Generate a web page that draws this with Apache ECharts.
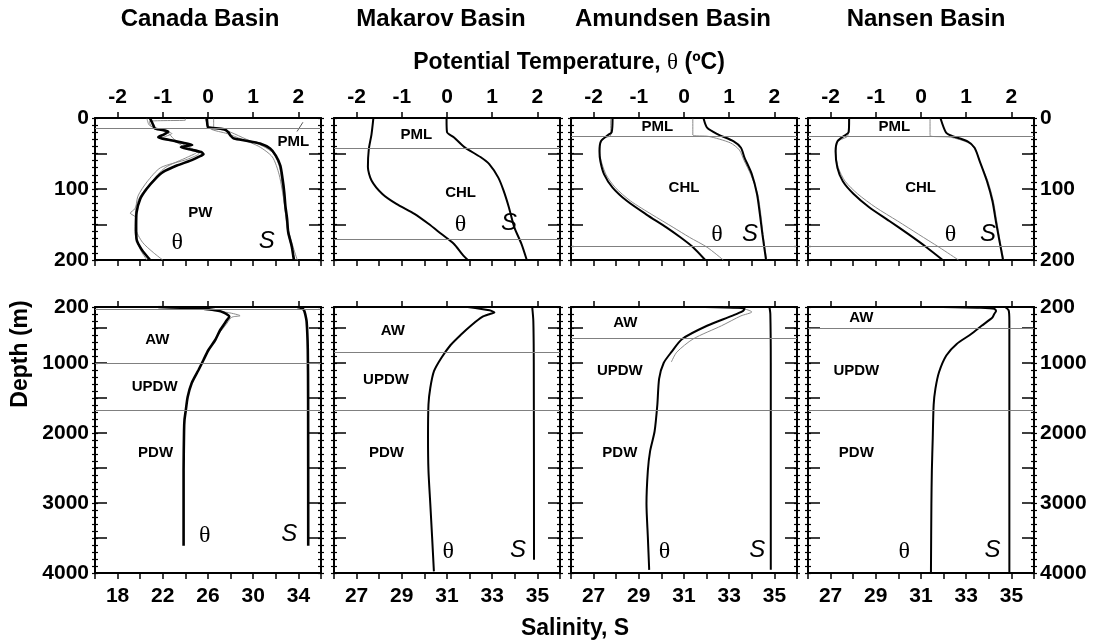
<!DOCTYPE html>
<html><head><meta charset="utf-8">
<script src="https://cdn.jsdelivr.net/npm/echarts@6/dist/echarts.min.js"></script>
<style>html,body{margin:0;padding:0;background:#fff}#c{width:1096px;height:644px}</style>
</head><body><div id="c"></div>
<script>
// ---------------- DATA ----------------
const basinNames = ['Canada Basin', 'Makarov Basin', 'Amundsen Basin', 'Nansen Basin'];
const thetaTickValues = [-2, -1, 0, 1, 2];
const salinityLabelsCanada = [18, 22, 26, 30, 34];
const salinityLabelsOther = [27, 29, 31, 33, 35];
const upperDepthLabels = [0, 100, 200];
const lowerDepthLabels = [200, 1000, 2000, 3000, 4000];
const lowerDepthMajorTicks = [500, 1000, 1500, 2000, 2500, 3000, 3500];

// profiles as [depth (m), value]
const canadaUpperTheta = [[1,-1.28],[6,-1.24],[10,-1.21],[15,-1.17],[19,-0.88],[23,-0.97],[27,-1.10],[31,-0.85],[35,-0.55],[38,-0.35],[41,-0.6],[44,-0.42],[48,-0.15],[51,-0.1],[55,-0.22],[60,-0.39],[67,-0.69],[76,-0.99],[86,-1.17],[100,-1.36],[114,-1.5],[133,-1.58],[152,-1.59],[171,-1.58],[185,-1.47],[200,-1.28]];
const canadaUpperThetaGrayA = [[1,-0.5],[3,-0.5],[5,-1.3],[12,-1.25],[20,-0.9],[30,-0.75],[40,-0.45],[48,-0.25],[55,-0.45],[70,-0.95],[90,-1.25],[110,-1.5],[128,-1.62],[134,-1.72],[140,-1.6],[155,-1.6],[175,-1.45],[190,-1.2],[200,-1.0]];
const canadaUpperThetaGrayB = [[1,-1.35],[10,-1.3],[16,-1.1],[22,-0.8],[28,-1.0],[34,-0.7],[42,-0.5],[50,-0.2],[58,-0.45],[70,-1.05],[90,-1.35],[110,-1.55],[130,-1.6],[160,-1.62],[185,-1.5],[200,-1.35]];
const canadaUpperSal = [[1,25.9],[10,25.95],[13,26.0],[16,27.4],[20,27.8],[25,28.0],[29,28.3],[32,29.4],[36,30.6],[43,31.5],[53,32.0],[67,32.4],[86,32.6],[105,32.75],[124,32.85],[142,33.0],[161,33.1],[180,33.4],[200,33.6]];
const canadaUpperSalGrayA = [[1,26.5],[12,26.5],[20,28.0],[30,29.4],[40,30.9],[50,31.8],[70,32.35],[100,32.6],[150,33.0],[180,33.5],[200,33.9]];
const canadaUpperSalGrayB = [[1,25.75],[15,26.2],[22,27.7],[30,29.0],[40,30.5],[55,31.7],[80,32.3],[120,32.75],[160,33.05],[200,33.7]];
const canadaLowerTheta = [[200,-1.1],[210,-0.6],[219,-0.17],[250,0.2],[281,0.35],[338,0.47],[386,0.42],[529,0.27],[671,0.16],[814,0.01],[957,-0.1],[1100,-0.21],[1286,-0.36],[1486,-0.45],[1671,-0.49],[1814,-0.52],[1970,-0.53],[2540,-0.54],[3000,-0.54],[3610,-0.54]];
const canadaLowerThetaGray = [[200,-1.0],[230,-0.2],[280,0.45],[325,0.71],[340,0.55],[360,0.5],[450,0.4],[600,0.22],[800,0.03]];
const canadaLowerSal = [[200,33.9],[215,34.3],[247,34.5],[300,34.6],[412,34.73],[800,34.83],[1500,34.86],[3610,34.87]];

const makarovUpperTheta = [[1,-1.63],[23,-1.67],[44,-1.73],[69,-1.75],[88,-1.67],[107,-1.43],[121,-1.12],[135,-0.72],[149,-0.41],[163,-0.13],[177,0.15],[192,0.34],[200,0.46]];
const makarovUpperSal = [[1,30.98],[20,31.0],[27,31.3],[41,31.77],[55,32.48],[65,32.87],[84,33.27],[102,33.5],[126,33.74],[154,33.98],[177,34.29],[200,34.53]];
const makarovLowerTheta = [[200,0.46],[247,0.94],[280,1.05],[300,0.95],[342,0.78],[460,0.54],[600,0.3],[743,0.08],[932,-0.13],[1120,-0.29],[1357,-0.37],[1593,-0.41],[2065,-0.42],[2537,-0.41],[3009,-0.37],[3481,-0.33],[3977,-0.29]];
const makarovLowerSal = [[200,34.77],[400,34.82],[1000,34.84],[3810,34.85]];

const amundsenUpperTheta = [[1,-1.58],[20,-1.6],[24,-1.68],[33,-1.84],[47,-1.87],[61,-1.85],[79,-1.77],[98,-1.58],[117,-1.26],[136,-0.83],[154,-0.39],[168,-0.08],[182,0.2],[200,0.47]];
const amundsenUpperThetaGray = [[1,-1.62],[24,-1.62],[30,-1.82],[50,-1.86],[79,-1.73],[98,-1.52],[117,-1.18],[136,-0.71],[154,-0.24],[168,0.12],[182,0.51],[200,0.87]];
const amundsenUpperSal = [[1,31.87],[14,32.03],[23,32.5],[33,33.2],[42,33.52],[56,33.68],[79,34.0],[107,34.23],[136,34.36],[164,34.47],[200,34.63]];
const amundsenUpperSalGray = [[1,31.39],[24,31.39],[26,32.1],[35,33.05],[45,33.45],[60,33.66],[80,33.96],[107,34.26],[136,34.4],[164,34.5],[200,34.66]];
const amundsenLowerTheta = [[200,0.47],[212,1.2],[224,1.34],[260,1.3],[327,1.06],[468,0.51],[657,-0.04],[845,-0.28],[1000,-0.45],[1222,-0.55],[1598,-0.59],[1975,-0.65],[2258,-0.75],[2540,-0.8],[3012,-0.83],[3484,-0.8],[3955,-0.77]];
const amundsenLowerThetaGray = [[200,0.87],[230,1.35],[271,1.5],[327,1.26],[468,0.83],[657,0.2],[845,-0.16],[986,-0.28]];
const amundsenLowerSal = [[200,34.78],[300,34.82],[1000,34.84],[3955,34.84]];

const nansenUpperTheta = [[1,-1.59],[20,-1.6],[25,-1.7],[33,-1.85],[47,-1.89],[70,-1.85],[89,-1.73],[107,-1.49],[126,-1.14],[145,-0.7],[164,-0.27],[182,0.12],[200,0.48]];
const nansenUpperThetaGray = [[1,-1.6],[25,-1.62],[33,-1.84],[50,-1.88],[70,-1.83],[89,-1.68],[107,-1.4],[126,-1.0],[145,-0.52],[164,-0.05],[182,0.4],[200,0.83]];
const nansenUpperSal = [[1,31.87],[20,32.1],[25,32.35],[33,33.06],[42,33.37],[61,33.6],[89,33.92],[117,34.16],[145,34.31],[173,34.47],[200,34.63]];
const nansenUpperSalGray = [[1,31.4],[25,31.4],[27,32.3],[35,33.1],[45,33.42],[65,33.64],[89,33.96],[117,34.2],[145,34.35],[173,34.5],[200,34.66]];
const nansenLowerTheta = [[200,0.48],[210,1.3],[224,1.62],[257,1.66],[300,1.62],[351,1.58],[468,1.34],[586,1.11],[727,0.79],[892,0.56],[1128,0.4],[1363,0.32],[1598,0.28],[2069,0.26],[2540,0.24],[3012,0.23],[4000,0.22]];
const nansenLowerSal = [[200,34.72],[250,34.88],[400,34.91],[4000,34.91]];

// layer boundaries (depth, m)
const canadaUpperLayers = [14];
const canadaLowerLayers = [230, 1000, 1680];
const makarovUpperLayers = [43, 171];
const makarovLowerLayers = [850, 1680];
const amundsenUpperLayers = [25, 181];
const amundsenLowerLayers = [650, 1680];
const nansenUpperLayers = [25, 181];
const nansenLowerLayers = [500, 1680];

// annotations [text, theta, depth]
const canadaUpperNotes = [['PML',1.89,34],['PW',-0.17,133],['θ',-0.68,176],['S',1.3,173]];
const canadaLowerNotes = [['AW',-1.12,672],['UPDW',-1.18,1347],['PDW',-1.16,2277],['θ',-0.07,3467],['S',1.8,3448]];
const makarovUpperNotes = [['PML',-0.68,24],['CHL',0.3,106],['θ',0.3,150],['S',1.37,148]];
const makarovLowerNotes = [['AW',-1.2,545],['UPDW',-1.35,1239],['PDW',-1.34,2277],['θ',0.03,3693],['S',1.57,3670]];
const amundsenUpperNotes = [['PML',-0.59,13],['CHL',0.0,99],['θ',0.73,164],['S',1.46,164]];
const amundsenLowerNotes = [['AW',-1.3,421],['UPDW',-1.42,1118],['PDW',-1.42,2281],['θ',-0.43,3694],['S',1.62,3670]];
const nansenUpperNotes = [['PML',-0.59,13],['CHL',-0.01,99],['θ',0.65,164],['S',1.48,164]];
const nansenLowerNotes = [['AW',-1.32,351],['UPDW',-1.43,1118],['PDW',-1.43,2281],['θ',-0.37,3694],['S',1.58,3670]];
const canadaPmlLeader = [[19,1.97],[6,2.1]];

// ---------------- LAYOUT / STYLE ----------------
const FONT = "'Liberation Sans', Arial, Helvetica, sans-serif";
const SERIF = "'Liberation Serif', 'DejaVu Serif', serif";
const panelLeft = [95, 334, 571, 808];
const panelWidth = 226;
const rowGeom = { upper: { top: 118, height: 142 }, lower: { top: 307, height: 266 } };
const titleX = [200, 441, 673, 926];

const panels = [
  { salMin: 16, salMax: 36, salInterval: 2, salLabels: salinityLabelsCanada,
    upper: { theta: canadaUpperTheta, thetaGray: [canadaUpperThetaGrayA, canadaUpperThetaGrayB], sal: canadaUpperSal, salGray: [canadaUpperSalGrayA, canadaUpperSalGrayB], layers: canadaUpperLayers, notes: canadaUpperNotes, leader: canadaPmlLeader },
    lower: { theta: canadaLowerTheta, thetaGray: [canadaLowerThetaGray], sal: canadaLowerSal, salGray: [], layers: canadaLowerLayers, notes: canadaLowerNotes } },
  { salMin: 26, salMax: 36, salInterval: 1, salLabels: salinityLabelsOther,
    upper: { theta: makarovUpperTheta, thetaGray: [], sal: makarovUpperSal, salGray: [], layers: makarovUpperLayers, notes: makarovUpperNotes },
    lower: { theta: makarovLowerTheta, thetaGray: [], sal: makarovLowerSal, salGray: [], layers: makarovLowerLayers, notes: makarovLowerNotes } },
  { salMin: 26, salMax: 36, salInterval: 1, salLabels: salinityLabelsOther,
    upper: { theta: amundsenUpperTheta, thetaGray: [amundsenUpperThetaGray], sal: amundsenUpperSal, salGray: [amundsenUpperSalGray], layers: amundsenUpperLayers, notes: amundsenUpperNotes },
    lower: { theta: amundsenLowerTheta, thetaGray: [amundsenLowerThetaGray], sal: amundsenLowerSal, salGray: [], layers: amundsenLowerLayers, notes: amundsenLowerNotes } },
  { salMin: 26, salMax: 36, salInterval: 1, salLabels: salinityLabelsOther,
    upper: { theta: nansenUpperTheta, thetaGray: [nansenUpperThetaGray], sal: nansenUpperSal, salGray: [nansenUpperSalGray], layers: nansenUpperLayers, notes: nansenUpperNotes },
    lower: { theta: nansenLowerTheta, thetaGray: [], sal: nansenLowerSal, salGray: [], layers: nansenLowerLayers, notes: nansenLowerNotes } }
];

const tickLabelStyle = { color: '#000', fontSize: 21, fontWeight: 'bold', fontFamily: FONT, formatter: v => String(v) };
const axisLineStyle = { color: '#000', width: 2 };

const grids = [], xAxes = [], yAxes = [], series = [];

panels.forEach((p, pi) => {
  ['upper', 'lower'].forEach(row => {
    const g = grids.length;
    const geom = rowGeom[row];
    grids.push({ left: panelLeft[pi], top: geom.top, width: panelWidth, height: geom.height, containLabel: false, outerBoundsMode: 'none' });
    const isUpper = row === 'upper';
    const xT = xAxes.length;
    xAxes.push({
      gridIndex: g, type: 'value', position: 'top', min: -2.5, max: 2.5,
      axisLine: { show: true, onZero: false, lineStyle: axisLineStyle },
      axisTick: { show: true, inside: false, length: 6, customValues: thetaTickValues, lineStyle: { color: '#000', width: 1.5 } },
      axisLabel: { show: isUpper, customValues: thetaTickValues, margin: 10, ...tickLabelStyle },
      splitLine: { show: false }
    });
    const xS = xAxes.length;
    xAxes.push({
      gridIndex: g, type: 'value', position: 'bottom', min: p.salMin, max: p.salMax, interval: p.salInterval,
      axisLine: { show: true, onZero: false, lineStyle: axisLineStyle },
      axisTick: { show: true, inside: false, length: 6, lineStyle: { color: '#000', width: 1.5 } },
      axisLabel: { show: !isUpper, customValues: p.salLabels, margin: 13, ...tickLabelStyle },
      splitLine: { show: false }
    });
    const yBase = yAxes.length;
    const yMin = isUpper ? 0 : 200, yMax = isUpper ? 200 : 4000;
    ['left', 'right'].forEach(side => {
      const showLabels = (side === 'left' && pi === 0) || (side === 'right' && pi === 3);
      const major = {
        gridIndex: g, type: 'value', position: side, inverse: true, min: yMin, max: yMax,
        interval: isUpper ? 50 : 100,
        axisLine: { show: true, onZero: false, lineStyle: axisLineStyle },
        axisTick: { show: true, inside: true, length: 12, lineStyle: { color: '#000', width: 1.5 } },
        axisLabel: { show: showLabels, customValues: isUpper ? upperDepthLabels : lowerDepthLabels, margin: 6, ...tickLabelStyle },
        splitLine: { show: false }
      };
      if (!isUpper) major.axisTick.customValues = lowerDepthMajorTicks;
      yAxes.push(major);
      [false, true].forEach(inside => {
        yAxes.push({
          gridIndex: g, type: 'value', position: side, inverse: true, min: yMin, max: yMax,
          interval: isUpper ? 10 : 100,
          axisLine: { show: false, onZero: false },
          axisTick: { show: true, inside: inside, length: 3, lineStyle: { color: '#000', width: 1.2 } },
          axisLabel: { show: false }, splitLine: { show: false }
        });
      });
    });
    const yL = yBase;
    const d = p[row];
    const toXY = arr => arr.map(r => [r[1], r[0]]);
    const lineBase = { type: 'line', yAxisIndex: yL, showSymbol: false, symbol: 'none', smooth: 0.25, animation: false, silent: true, z: 3 };
    series.push({
      type: 'line', xAxisIndex: xT, yAxisIndex: yL, data: [], silent: true, animation: false,
      markLine: { silent: true, animation: false, symbol: ['none', 'none'], label: { show: false },
        lineStyle: { color: '#808080', width: 1, type: 'solid' },
        data: d.layers.map(v => ({ yAxis: v })) }
    });
    d.thetaGray.forEach(arr => series.push({ ...lineBase, xAxisIndex: xT, data: toXY(arr), lineStyle: { color: '#8a8a8a', width: 1 }, z: 2 }));
    d.salGray.forEach(arr => series.push({ ...lineBase, xAxisIndex: xS, data: toXY(arr), lineStyle: { color: '#8a8a8a', width: 1 }, z: 2 }));
    series.push({ ...lineBase, xAxisIndex: xT, data: toXY(d.theta), lineStyle: { color: '#000', width: pi === 0 ? 2.6 : 2 } });
    series.push({ ...lineBase, xAxisIndex: xS, data: toXY(d.sal), lineStyle: { color: '#000', width: pi === 0 ? 2.6 : 2 } });
    if (d.leader) series.push({ ...lineBase, smooth: false, xAxisIndex: xT, data: toXY(d.leader), lineStyle: { color: '#555', width: 1 } });
    series.push({
      type: 'scatter', xAxisIndex: xT, yAxisIndex: yL, symbol: 'circle', symbolSize: 2,
      itemStyle: { color: 'rgba(255,255,255,0)', opacity: 1 }, silent: true, animation: false, z: 5,
      data: d.notes.map(n => {
        let lab = { show: true, position: 'inside', formatter: n[0], color: '#000', opacity: 1, textBorderWidth: 0, fontFamily: FONT, fontWeight: 'bold', fontSize: 15 };
        if (n[0] === 'θ') lab = { ...lab, fontFamily: SERIF, fontWeight: 'normal', fontSize: 24 };
        if (n[0] === 'S') lab = { ...lab, fontStyle: 'italic', fontWeight: 'normal', fontSize: 24 };
        return { value: [n[1], n[2]], label: lab };
      })
    });
  });
});

const titleStyle = { fill: '#000', font: `bold 23px ${FONT}`, textAlign: 'center', textVerticalAlign: 'middle' };
const graphic = basinNames.map((n, i) => ({ type: 'text', x: titleX[i], y: 19, style: { ...titleStyle, text: n, font: `bold 24px ${FONT}` } }));
graphic.push({ type: 'text', x: 569, y: 63, style: { ...titleStyle, text: 'Potential Temperature, {t|θ} (ºC)',
  rich: { t: { font: `normal 23px ${SERIF}`, fill: '#000' } } } });
graphic.push({ type: 'text', x: 575, y: 629, style: { ...titleStyle, text: 'Salinity, S' } });
graphic.push({ type: 'text', x: 21, y: 354, rotation: Math.PI / 2, style: { ...titleStyle, text: 'Depth (m)' } });

const chart = echarts.init(document.getElementById('c'), null, { renderer: 'canvas' });
chart.setOption({
  backgroundColor: '#fff',
  animation: false,
  grid: grids, xAxis: xAxes, yAxis: yAxes, series: series, graphic: graphic
});
</script></body></html>
